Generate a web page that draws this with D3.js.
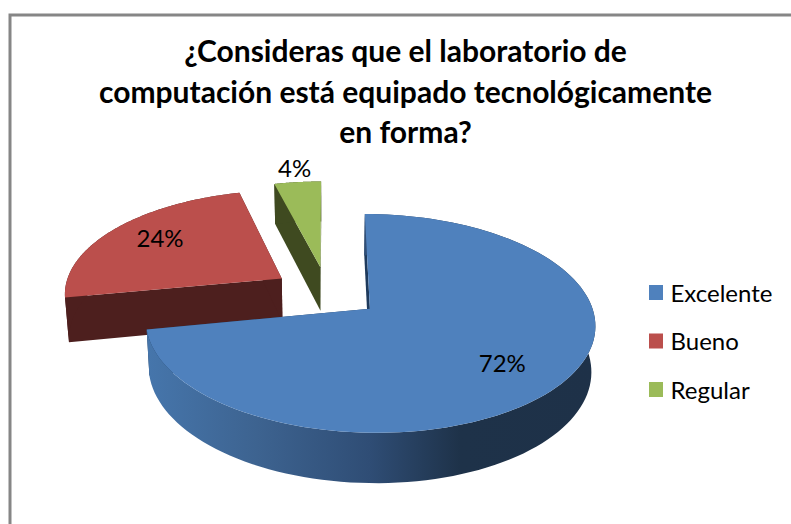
<!DOCTYPE html>
<html>
<head>
<meta charset="utf-8">
<script src="https://cdnjs.cloudflare.com/ajax/libs/d3/7.8.5/d3.min.js"></script>
<style>
  html, body { margin: 0; padding: 0; background: #fff; }
  svg { display: block; }
  text { font-family: Lato, "Open Sans", sans-serif; fill: #000; }
</style>
</head>
<body>
<div id="chart"></div>
<script>
// data
var categories = ["Excelente", "Bueno", "Regular"];
var values = [72, 24, 4];
var topColors = ["#4f81bd", "#bb4f4c", "#9bbb59"];
var wallColors = ["#2b4a72", "#4d1f1e", "#3f4a20"];
var titleLines = ["¿Consideras que el laboratorio de", "computación está equipado tecnológicamente", "en forma?"];

var width = 791, height = 524;

// pie geometry and fake perspective
var cx = 327, cy = 292, rx = 218, ry = 103;
var explode = 0.25, persp = 0.131, depth = 44.5, shrink = 0.985;

var svg = d3.select("#chart").append("svg")
    .attr("width", width)
    .attr("height", height);

// frame, only left and top show in the picture
svg.append("rect")
    .attr("x", 10).attr("y", 15)
    .attr("width", width + 40).attr("height", height + 40)
    .attr("fill", "#fff")
    .attr("stroke", "#868686")
    .attr("stroke-width", 3);

// side wall shading of the big slice
var grad = svg.append("defs").append("linearGradient")
    .attr("id", "wallBlue")
    .attr("gradientUnits", "userSpaceOnUse")
    .attr("x1", 145).attr("x2", 595).attr("y1", 0).attr("y2", 0);
grad.append("stop").attr("offset", "0%").attr("stop-color", "#4676ac");
grad.append("stop").attr("offset", "25%").attr("stop-color", "#3d6390");
grad.append("stop").attr("offset", "50%").attr("stop-color", "#2f4d75");
grad.append("stop").attr("offset", "70%").attr("stop-color", "#1e3249");
grad.append("stop").attr("offset", "100%").attr("stop-color", "#1e3148");

// model point (radius r at angle a from the slice apex) -> screen, z 0 top, 1 bottom
function project(slice, a, r, z) {
    var mid = (slice.startAngle + slice.endAngle) / 2;
    var u = explode * Math.sin(mid) + r * Math.sin(a);
    var v = -explode * Math.cos(mid) - r * Math.cos(a);
    var s = 1 / (1 - persp * v);
    var f = z ? shrink : 1;
    return [cx + rx * u * s * f, cy + ry * v * s * f + z * depth * s];
}

function rim(slice, z) {
    var n = 120, step = (slice.endAngle - slice.startAngle) / n;
    return d3.range(n + 1).map(function(i) {
        return project(slice, slice.startAngle + i * step, 1, z);
    });
}

var outline = d3.line();

var slices = d3.pie().sort(null)(values);

// back to front: regular, bueno, excelente
slices.slice().reverse().forEach(function(d) {
    var g = svg.append("g").attr("class", "slice");
    var wall = d.index === 0 ? "url(#wallBlue)" : wallColors[d.index];
    var cutColor = wallColors[d.index];

    [d.startAngle, d.endAngle].forEach(function(a) {
        g.append("path")
            .attr("fill", d.index === 0 ? "#1e3a5c" : cutColor)
            .attr("d", outline([
                project(d, a, 0, 0), project(d, a, 1, 0),
                project(d, a, 1, 1), project(d, a, 0, 1)
            ]) + "Z");
    });

    g.append("path")
        .attr("fill", wall)
        .attr("d", outline(rim(d, 0).concat(rim(d, 1).reverse())) + "Z");

    g.append("path")
        .attr("fill", topColors[d.index])
        .attr("d", outline([project(d, d.startAngle, 0, 0)].concat(rim(d, 0))) + "Z");
});

// percent labels, small slice sits outside
var labelNudge = [[2, 3], [-3, -5], [0, -3]];
slices.forEach(function(d) {
    var mid = (d.startAngle + d.endAngle) / 2;
    var p = project(d, mid, d.value < 10 ? 1.15 : 0.7, 0);
    svg.append("text")
        .attr("x", p[0] + labelNudge[d.index][0]).attr("y", p[1] + labelNudge[d.index][1])
        .attr("text-anchor", "middle")
        .attr("dominant-baseline", "central")
        .style("font-size", "24px")
        .text(d.value + "%");
});

// title
var titleY = d3.scalePoint().domain(d3.range(titleLines.length)).range([62, 143]);
svg.selectAll(".title")
    .data(titleLines)
    .enter()
    .append("text")
    .attr("class", "title")
    .attr("x", 405.5)
    .attr("y", function(d, i) { return titleY(i); })
    .attr("text-anchor", "middle")
    .style("font-size", "30px")
    .style("font-weight", "bold")
    .text(function(d) { return d; });

// legend
var legendY = d3.scalePoint().domain(categories).range([292.5, 389.5]);
var legend = svg.selectAll(".legend")
    .data(categories)
    .enter()
    .append("g")
    .attr("class", "legend")
    .attr("transform", function(d) { return "translate(649," + legendY(d) + ")"; });
legend.append("rect")
    .attr("y", -7.5)
    .attr("width", 14).attr("height", 15)
    .attr("fill", function(d, i) { return topColors[i]; });
legend.append("text")
    .attr("x", 21.5)
    .attr("y", -0.5)
    .attr("dominant-baseline", "central")
    .style("font-size", "24px")
    .text(function(d) { return d; });
</script>
</body>
</html>
